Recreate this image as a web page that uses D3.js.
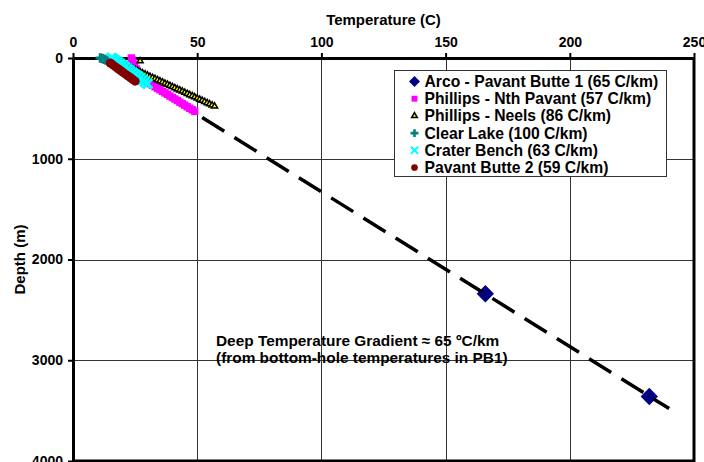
<!DOCTYPE html>
<html>
<head>
<meta charset="utf-8">
<script src="https://cdn.jsdelivr.net/npm/d3@7"></script>
<style>
  body { margin: 0; background: #fff; }
  svg { display: block; font-family: "Liberation Sans", Arial, sans-serif; font-weight: bold; }
</style>
</head>
<body>
<svg id="chart" width="704" height="462"></svg>
<script>
// Data: [temperature (C), depth (m)]
const arcoPB1 = [[166, 2340], [232, 3360]];
const deepGradient = [[52, 590], [240, 3480]];
const phillipsNthPavant = [
    [23.5, 0], [23.8, 20], [24.2, 45], [24.8, 75], [25.5, 110], [26.3, 150], [27.0, 185],
    [28, 213], [29, 228], [30, 239], [31, 254], [32, 270], [33, 285], [34, 300],
    [35, 315], [36, 331], [37, 346], [38, 361], [39, 377], [40, 392], [41, 407],
    [42, 422], [43, 438], [44, 453], [45, 468], [46, 484], [47, 499], [48, 514], [49, 529]
];
const phillipsNeels = [
    [27, 30],
    [21, 70], [22, 81], [23, 93], [24, 104], [25, 116], [26, 127], [27, 138], [28, 150],
    [29, 161], [30, 172], [31, 184], [32, 195], [33, 206], [34, 218], [35, 229],
    [36, 240], [37, 252], [38, 263], [39, 275], [40, 286], [41, 297], [42, 309],
    [43, 320], [44, 331], [45, 343], [46, 354], [47, 366], [48, 377], [49, 388],
    [50, 400], [51, 411], [52, 422], [53, 434], [54, 446], [55, 457], [56, 468], [57, 480]
];
const clearLake = [[11, 0], [11.8, 5], [12.5, 12], [13.2, 20], [14, 28]];
const craterBench = [
    [15.5, 0], [16.2, 10], [17, 25], [18, 40], [19, 58], [20, 75], [21, 92], [22, 110],
    [23, 128], [24, 146], [25, 164], [26, 182], [27, 200], [28, 218], [29, 236], [30, 255]
];
const pavantButte2 = [
    [15, 50], [16, 68], [17, 86], [18, 104], [19, 122], [20, 140], [21, 158],
    [22, 176], [23, 194], [24, 212], [25, 230]
];
const xTicks = [0, 50, 100, 150, 200, 250];
const yTicks = [0, 1000, 2000, 3000, 4000];
const legendLabels = [
    "Arco - Pavant Butte 1 (65 C/km)",
    "Phillips - Nth Pavant (57 C/km)",
    "Phillips - Neels (86 C/km)",
    "Clear Lake (100 C/km)",
    "Crater Bench (63 C/km)",
    "Pavant Butte 2 (59 C/km)"
];
const noteLines = [
    "Deep Temperature Gradient \u2248 65 \u00baC/km",
    "(from bottom-hole temperatures in PB1)"
];

const margin = {top: 58, right: 10, bottom: 1, left: 73};
const width = 704, height = 462;
const svg = d3.select("#chart");

const x = d3.scaleLinear().domain([0, 250]).range([margin.left, width - margin.right]);
const y = d3.scaleLinear().domain([0, 4000]).range([margin.top, height - margin.bottom]);

// gridlines
svg.append("g")
    .selectAll("line")
    .data(xTicks.slice(1, -1))
    .join("line")
    .attr("x1", d => Math.round(x(d)) + 0.5).attr("x2", d => Math.round(x(d)) + 0.5)
    .attr("y1", y(0)).attr("y2", y(4000))
    .attr("stroke", "#333").attr("stroke-width", 1);
svg.append("g")
    .selectAll("line")
    .data(yTicks.slice(1, -1))
    .join("line")
    .attr("y1", d => Math.round(y(d)) + 0.5).attr("y2", d => Math.round(y(d)) + 0.5)
    .attr("x1", x(0)).attr("x2", x(250))
    .attr("stroke", "#333").attr("stroke-width", 1);

// frame on the right and bottom
svg.append("path")
    .attr("d", `M${x(250)},${y(0)}V${y(4000)}H${x(0)}`)
    .attr("fill", "none").attr("stroke", "#000").attr("stroke-width", 3);

// axes
const xAxis = svg.append("g")
    .attr("transform", `translate(0,${y(0)})`)
    .call(d3.axisTop(x).tickValues(xTicks).tickSize(5).tickPadding(6).tickSizeOuter(0));
const yAxis = svg.append("g")
    .attr("transform", `translate(${x(0)},0)`)
    .call(d3.axisLeft(y).tickValues(yTicks).tickFormat(d3.format("d"))
        .tickSize(5).tickPadding(5).tickSizeOuter(0));
for (const ax of [xAxis, yAxis]) {
    ax.select(".domain").attr("stroke-width", 3);
    ax.selectAll(".tick line").attr("stroke-width", 2);
    ax.selectAll(".tick text")
        .attr("font-family", "Liberation Sans, Arial, sans-serif")
        .attr("font-weight", "bold")
        .attr("font-size", 14)
        .attr("fill", "#000");
}

svg.append("text")
    .attr("x", (x(0) + x(250)) / 2).attr("y", 25)
    .attr("text-anchor", "middle").attr("font-size", 15)
    .text("Temperature (C)");
svg.append("text")
    .attr("transform", `translate(25,${(y(0) + y(4000)) / 2}) rotate(-90)`)
    .attr("text-anchor", "middle").attr("font-size", 15)
    .text("Depth (m)");

// markers
const symbols = {
    diamond: d3.symbolSquare,
    square: d3.symbolSquare,
    triangle: d3.symbolTriangle,
    plus: d3.symbolCross,
    times: d3.symbolTimes,
    circle: d3.symbolCircle
};

const series = [
    {data: arcoPB1, kind: "diamond", size: 150, fill: "#000080", stroke: "none"},
    {data: phillipsNthPavant, kind: "square", size: 55, fill: "#ff00ff", stroke: "none"},
    {data: phillipsNeels, kind: "triangle", size: 16, fill: "#ffff00", stroke: "#000"},
    {data: clearLake, kind: "plus", size: 50, fill: "#008080", stroke: "none"},
    {data: craterBench, kind: "times", size: 60, fill: "none", stroke: "#00ffff"},
    {data: pavantButte2, kind: "circle", size: 64, fill: "#800000", stroke: "none"}
];

const drawSeries = function(s) {
    const sym = d3.symbol().type(symbols[s.kind]).size(s.size);
    svg.append("g")
        .selectAll("path")
        .data(s.data)
        .join("path")
        .attr("d", sym)
        .attr("transform", d => `translate(${x(d[0])},${y(d[1])})` + (s.kind === "diamond" ? " rotate(45)" : ""))
        .attr("fill", s.fill)
        .attr("stroke", s.stroke)
        .attr("stroke-width", s.kind === "times" ? 3 : s.kind === "triangle" ? 1.5 : 1);
};

drawSeries(series[0]);

// deep gradient dashed line
svg.append("path")
    .datum(deepGradient)
    .attr("fill", "none")
    .attr("stroke", "#000")
    .attr("stroke-width", 3.5)
    .attr("stroke-dasharray", "26,12")
    .attr("d", d3.line().x(d => x(d[0])).y(d => y(d[1])));

for (const s of series.slice(1)) { drawSeries(s); }

// legend
const legend = svg.append("g").attr("transform", "translate(394.5,70.5)");
legend.append("rect")
    .attr("width", 272).attr("height", 106)
    .attr("fill", "#fff").attr("stroke", "#333").attr("stroke-width", 1);
legendLabels.forEach((label, i) => {
    const s = series[i];
    const cy = 11 + i * 17.2;
    const sym = d3.symbol().type(symbols[s.kind])
        .size(s.kind === "diamond" ? 60 : s.kind === "triangle" ? 14 : 35);
    legend.append("path")
        .attr("d", sym)
        .attr("transform", `translate(20,${cy})` + (s.kind === "diamond" ? " rotate(45)" : ""))
        .attr("fill", s.fill)
        .attr("stroke", s.stroke)
        .attr("stroke-width", s.kind === "times" ? 2 : s.kind === "triangle" ? 1.5 : 1);
    legend.append("text")
        .attr("x", 30).attr("y", cy + 5.5)
        .attr("font-size", 15.7)
        .text(label);
});

// annotation
svg.append("g")
    .selectAll("text")
    .data(noteLines)
    .join("text")
    .attr("x", 216).attr("y", (d, i) => 346 + i * 17)
    .attr("font-size", 15.4)
    .text(d => d);
</script>
</body>
</html>
